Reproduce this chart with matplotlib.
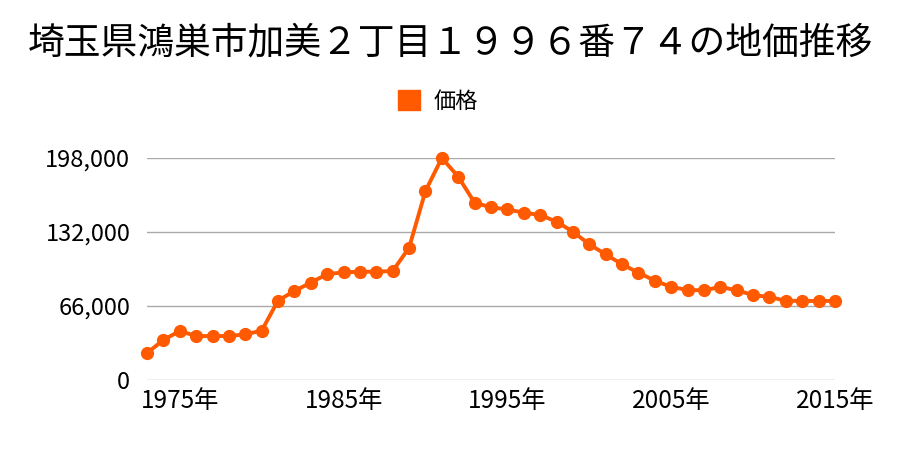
"""Land price trend chart for a single address, 1973-2015."""

import matplotlib
matplotlib.use("Agg")
import matplotlib.pyplot as plt
from matplotlib.ticker import FuncFormatter

plt.rcParams["font.family"] = ["Noto Sans CJK JP", "DejaVu Sans"]

TITLE = "埼玉県鴻巣市加美２丁目１９９６番７４の地価推移"
SERIES_NAME = "価格"

years = list(range(1973, 2016))
prices = [
    24000, 35700, 43700, 39200, 39200, 39200, 40700, 44000, 70800, 79400,
    86800, 94500, 96000, 96600, 96600, 97200, 118000, 168600, 198000, 181300,
    158100, 154000, 152200, 149200, 147200, 141200, 132300, 121000, 112100, 103200,
    95700, 88600, 83000, 80300, 80000, 83000, 80000, 75800, 74000, 70700,
    70500, 70500, 70500,
]
y_ticks = [0, 66000, 132000, 198000]
x_ticks = [1975, 1985, 1995, 2005, 2015]

ORANGE = "#ff5a00"

fig = plt.figure(figsize=(9, 4.5), dpi=100)
ax = fig.add_axes([147 / 900, 1 - 380 / 450, (835 - 147) / 900, (380 - 158) / 450])

ax.plot(years, prices, color=ORANGE, linewidth=2.8, marker="o",
        markersize=8.5, label=SERIES_NAME, clip_on=False, zorder=3)

ax.set_xlim(1973, 2015)
ax.set_ylim(0, 198000)
ax.set_yticks(y_ticks)
ax.set_xticks(x_ticks)
ax.yaxis.set_major_formatter(FuncFormatter(lambda v, _: f"{int(v):,}"))
ax.xaxis.set_major_formatter(FuncFormatter(lambda v, _: f"{int(v)}年"))
ax.tick_params(axis="both", length=0, colors="black")
ax.tick_params(axis="y", labelsize=17, pad=12)
ax.tick_params(axis="x", labelsize=17.5, pad=6)
ax.grid(axis="y", color="#aaaaaa", linewidth=1)
ax.set_axisbelow(True)
for spine in ax.spines.values():
    spine.set_visible(False)

fig.text(0.5, 1 - 43 / 450, TITLE, ha="center", va="center", fontsize=26.5)

fig.legend(handles=[plt.Rectangle((0, 0), 1, 1, color=ORANGE)], labels=[SERIES_NAME],
           loc="center", bbox_to_anchor=(0.487, 1 - 101 / 450), frameon=False,
           fontsize=16, handlelength=1.0, handleheight=1.0, handletextpad=0.6)

fig.savefig("out.png", dpi=100)
